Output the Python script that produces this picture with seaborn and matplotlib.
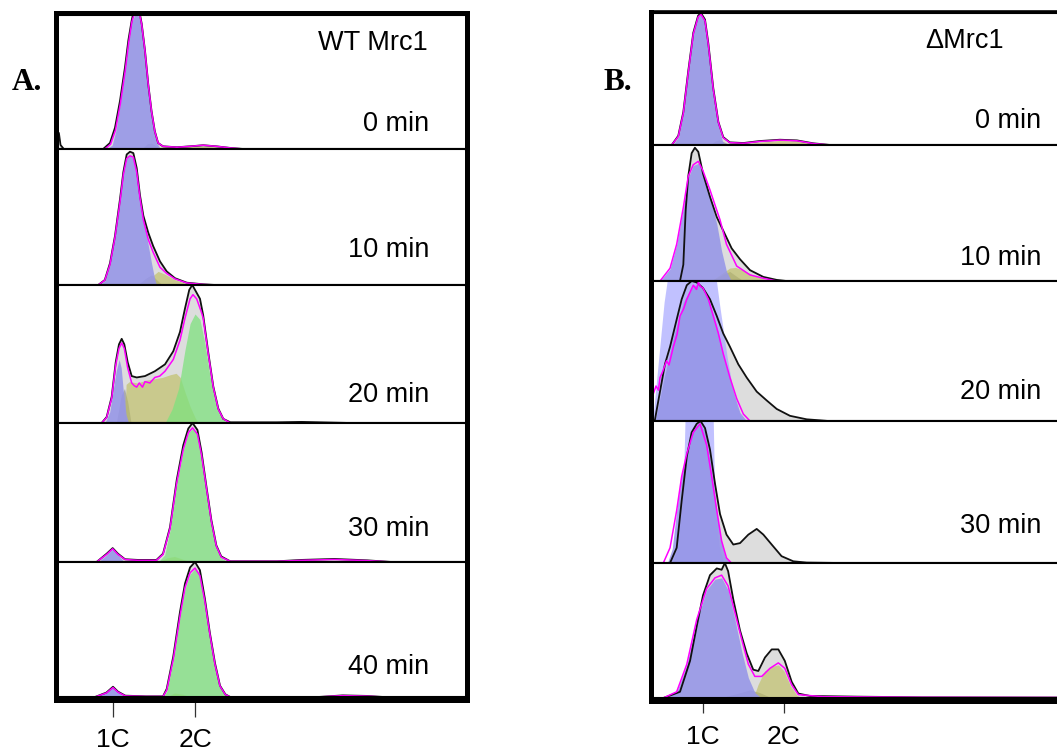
import matplotlib
matplotlib.use("Agg")
import matplotlib.pyplot as plt
import seaborn as sns

W, H = 1057, 753

# =====================================================================
# Data : DNA content (C units) vs relative cell count, one row per time
# =====================================================================
# ---- Panel A : WT Mrc1 ----
A0_total_x = [0.34, 0.36, 0.40, 0.88, 0.963, 1.024, 1.085, 1.146, 1.187, 1.228, 1.26, 1.30, 1.33, 1.35,
              1.39, 1.43, 1.47, 1.51, 1.55, 1.61, 1.78, 1.94, 2.10, 2.26, 2.43, 2.59]
A0_total_y = [0.12, 0.03, 0.0, 0.0, 0.045, 0.158, 0.358, 0.609, 0.81, 0.96, 1.05, 1.05, 1.0, 0.935,
              0.735, 0.484, 0.283, 0.133, 0.045, 0.02, 0.013, 0.02, 0.028, 0.02, 0.008, 0.0]
A0_fit_x = [0.90, 0.97, 1.03, 1.09, 1.15, 1.19, 1.23, 1.27, 1.32, 1.35, 1.39, 1.43, 1.47, 1.51, 1.55,
            1.61, 1.78, 1.94, 2.10, 2.26, 2.43, 2.59]
A0_fit_y = [0.0, 0.035, 0.14, 0.34, 0.59, 0.79, 0.95, 1.03, 1.02, 0.93, 0.73, 0.48, 0.28, 0.13, 0.045,
            0.02, 0.013, 0.02, 0.028, 0.02, 0.008, 0.0]
A0_blue_x = [0.92, 0.99, 1.04, 1.09, 1.15, 1.19, 1.23, 1.28, 1.33, 1.37, 1.41, 1.45, 1.49, 1.53, 1.58]
A0_blue_y = [0, 0.03, 0.15, 0.35, 0.6, 0.8, 0.95, 1.02, 0.97, 0.8, 0.55, 0.32, 0.15, 0.05, 0.0]
A0_gray_x = [1.35, 1.42, 1.47, 1.53, 1.58]
A0_gray_y = [0, 0.04, 0.045, 0.02, 0]
A0_yel_x = [1.45, 1.6, 2.0, 2.4, 2.6]
A0_yel_y = [0, 0.015, 0.025, 0.01, 0]

A1_total_x = [0.82, 0.90, 0.963, 1.024, 1.085, 1.126, 1.167, 1.207, 1.248, 1.289, 1.329, 1.37, 1.43,
              1.49, 1.573, 1.655, 1.756, 1.90, 2.10, 2.25]
A1_total_y = [0, 0.037, 0.16, 0.36, 0.63, 0.83, 0.96, 0.98, 0.97, 0.86, 0.66, 0.51, 0.385, 0.286,
              0.174, 0.10, 0.05, 0.017, 0.005, 0]
A1_fit_x = A1_total_x
A1_fit_y = [0, 0.035, 0.15, 0.35, 0.61, 0.81, 0.93, 0.95, 0.94, 0.83, 0.64, 0.48, 0.335, 0.24, 0.13,
            0.085, 0.045, 0.015, 0.004, 0]
A1_blue_x = [0.83, 0.90, 0.963, 1.024, 1.085, 1.126, 1.167, 1.207, 1.248, 1.289, 1.33, 1.37, 1.41,
             1.47, 1.51, 1.53]
A1_blue_y = [0, 0.03, 0.15, 0.35, 0.61, 0.81, 0.93, 0.95, 0.93, 0.8, 0.61, 0.48, 0.36, 0.16, 0.04, 0]
A1_yel_x = [1.33, 1.45, 1.55, 1.63, 1.75, 1.9, 2.0]
A1_yel_y = [0, 0.05, 0.1, 0.08, 0.04, 0.01, 0]
A1_gray_x = [1.3, 1.4, 1.47, 1.53, 1.6]
A1_gray_y = [0, 0.05, 0.075, 0.04, 0]

A2_total_x = [0.862, 0.923, 0.984, 1.033, 1.073, 1.106, 1.138, 1.179, 1.228, 1.289, 1.39, 1.51, 1.634,
              1.735, 1.817, 1.878, 1.93, 1.967, 2.0, 2.061, 2.10, 2.162, 2.223, 2.284, 2.345, 2.43,
              3.0, 3.3, 3.6, 3.9]
A2_total_y = [0, 0.044, 0.19, 0.44, 0.57, 0.61, 0.57, 0.44, 0.34, 0.33, 0.34, 0.375, 0.425, 0.52, 0.66,
              0.83, 0.965, 1.0, 0.965, 0.9, 0.78, 0.51, 0.265, 0.105, 0.03, 0.005, 0.005, 0.008,
              0.004, 0]
A2_fit_x = [0.862, 0.923, 0.984, 1.033, 1.073, 1.106, 1.138, 1.179, 1.228, 1.26, 1.289, 1.32, 1.36,
            1.39, 1.45, 1.51, 1.57, 1.634, 1.735, 1.817, 1.878, 1.94, 1.975, 2.02, 2.08, 2.10, 2.162,
            2.223, 2.284, 2.345, 2.43]
A2_fit_y = [0, 0.04, 0.18, 0.42, 0.54, 0.58, 0.54, 0.40, 0.29, 0.27, 0.26, 0.29, 0.26, 0.30, 0.29,
            0.33, 0.34, 0.375, 0.46, 0.60, 0.76, 0.9, 0.93, 0.9, 0.8, 0.76, 0.5, 0.26, 0.10, 0.03, 0]
A2_blue_x = [0.90, 0.96, 1.0, 1.04, 1.075, 1.10, 1.126, 1.16, 1.19]
A2_blue_y = [0, 0.08, 0.23, 0.38, 0.46, 0.40, 0.23, 0.06, 0]
A2_gray_x = [1.04, 1.10, 1.14, 1.18, 1.22]
A2_gray_y = [0, 0.2, 0.25, 0.15, 0]
A2_yel_x = [1.14, 1.16, 1.20, 1.30, 1.40, 1.50, 1.60, 1.70, 1.77, 1.82, 1.88, 1.94, 2.0, 2.04]
A2_yel_y = [0, 0.28, 0.30, 0.29, 0.31, 0.32, 0.33, 0.35, 0.36, 0.33, 0.22, 0.12, 0.04, 0]
A2_green_x = [1.634, 1.72, 1.80, 1.878, 1.94, 2.0, 2.06, 2.12, 2.18, 2.24, 2.30, 2.39]
A2_green_y = [0, 0.1, 0.25, 0.53, 0.72, 0.79, 0.75, 0.58, 0.35, 0.17, 0.06, 0]

A3_total_x = [0.80, 0.923, 0.996, 1.06, 1.146, 1.30, 1.53, 1.61, 1.695, 1.777, 1.857, 1.918, 1.97,
              2.03, 2.08, 2.14, 2.20, 2.26, 2.32, 2.43, 3.0, 3.3, 3.7, 4.1, 4.4]
A3_total_y = [0, 0.06, 0.10, 0.06, 0.02, 0.015, 0.015, 0.06, 0.25, 0.59, 0.84, 0.96, 1.0, 0.95, 0.79,
              0.54, 0.30, 0.12, 0.04, 0.005, 0.005, 0.015, 0.022, 0.012, 0]
A3_fit_x = A3_total_x
A3_fit_y = [0, 0.055, 0.095, 0.055, 0.018, 0.012, 0.012, 0.055, 0.24, 0.57, 0.81, 0.93, 0.965, 0.92,
            0.77, 0.53, 0.29, 0.115, 0.035, 0.005, 0.005, 0.012, 0.018, 0.01, 0]
A3_blue_x = [0.82, 0.92, 0.99, 1.06, 1.14]
A3_blue_y = [0, 0.05, 0.09, 0.05, 0]
A3_green_x = [1.55, 1.63, 1.70, 1.78, 1.86, 1.92, 1.97, 2.03, 2.08, 2.14, 2.20, 2.26, 2.32, 2.40]
A3_green_y = [0, 0.05, 0.24, 0.57, 0.81, 0.93, 0.96, 0.92, 0.76, 0.52, 0.28, 0.11, 0.03, 0]
A3_yel_x = [1.55, 1.66, 1.75, 1.85, 1.95]
A3_yel_y = [0, 0.03, 0.04, 0.02, 0]

A4_total_x = [0.78, 0.92, 1.0, 1.06, 1.15, 1.40, 1.61, 1.655, 1.735, 1.817, 1.878, 1.94, 2.0, 2.06,
              2.12, 2.18, 2.244, 2.305, 2.37, 2.43, 3.5, 3.8, 4.1, 4.3]
A4_total_y = [0, 0.033, 0.076, 0.04, 0.01, 0.005, 0.005, 0.06, 0.30, 0.63, 0.84, 0.96, 1.0, 0.94, 0.73,
              0.48, 0.25, 0.084, 0.02, 0.0, 0.0, 0.012, 0.008, 0]
A4_fit_x = A4_total_x
A4_fit_y = [0, 0.03, 0.07, 0.036, 0.008, 0.004, 0.004, 0.05, 0.28, 0.6, 0.81, 0.92, 0.955, 0.90, 0.71,
            0.47, 0.24, 0.08, 0.018, 0, 0, 0.01, 0.006, 0]
A4_green_x = [1.61, 1.655, 1.735, 1.817, 1.878, 1.94, 2.0, 2.06, 2.12, 2.18, 2.244, 2.305, 2.37, 2.43]
A4_green_y = [0, 0.04, 0.27, 0.6, 0.8, 0.91, 0.95, 0.90, 0.70, 0.46, 0.23, 0.075, 0.015, 0]
A4_yel_x = [1.65, 1.75, 1.85, 1.95]
A4_yel_y = [0, 0.03, 0.02, 0]
A4_blue_x = [0.80, 0.92, 1.0, 1.07, 1.14]
A4_blue_y = [0, 0.04, 0.07, 0.03, 0]

# ---- Panel B : delta Mrc1 ----
B0_total_x = [0.614, 0.695, 0.757, 0.818, 0.88, 0.94, 0.975, 1.025, 1.066, 1.127, 1.19, 1.25, 1.33,
              1.50, 1.70, 1.95, 2.16, 2.36, 2.57]
B0_total_y = [0, 0.07, 0.25, 0.56, 0.85, 0.98, 1.0, 0.95, 0.77, 0.43, 0.175, 0.06, 0.02, 0.015, 0.03,
              0.04, 0.035, 0.013, 0]
B0_fit_x = B0_total_x
B0_fit_y = [0, 0.065, 0.24, 0.55, 0.84, 0.97, 0.99, 0.94, 0.76, 0.42, 0.17, 0.055, 0.018, 0.013, 0.027,
            0.037, 0.032, 0.011, 0]
B0_blue_x = [0.63, 0.70, 0.757, 0.818, 0.88, 0.94, 0.975, 1.025, 1.066, 1.127, 1.19, 1.24, 1.28]
B0_blue_y = [0, 0.065, 0.24, 0.55, 0.84, 0.97, 0.99, 0.94, 0.76, 0.41, 0.15, 0.03, 0]
B0_gray_x = [1.08, 1.15, 1.2, 1.27, 1.33]
B0_gray_y = [0, 0.03, 0.04, 0.02, 0]
B0_yel_x = [1.3, 1.6, 1.95, 2.2, 2.45, 2.55]
B0_yel_y = [0, 0.015, 0.035, 0.03, 0.005, 0]

B1_total_x = [0.716, 0.757, 0.786, 0.818, 0.86, 0.90, 0.942, 1.0, 1.086, 1.17, 1.25, 1.354, 1.457,
              1.58, 1.745, 1.91, 2.03]
B1_total_y = [0, 0.12, 0.52, 0.77, 0.94, 0.98, 0.95, 0.79, 0.62, 0.47, 0.37, 0.24, 0.16, 0.08, 0.03,
              0.008, 0]
B1_fit_x = [0.47, 0.593, 0.675, 0.757, 0.818, 0.88, 0.942, 1.0, 1.086, 1.17, 1.21, 1.29, 1.416, 1.58,
            1.745, 1.91]
B1_fit_y = [0, 0.094, 0.27, 0.54, 0.77, 0.855, 0.88, 0.81, 0.67, 0.52, 0.45, 0.27, 0.11, 0.045, 0.02, 0]
B1_blue_x = [0.47, 0.593, 0.675, 0.757, 0.818, 0.88, 0.942, 1.0, 1.086, 1.17, 1.23, 1.29, 1.35]
B1_blue_y = [0, 0.09, 0.27, 0.54, 0.76, 0.85, 0.865, 0.80, 0.62, 0.42, 0.22, 0.07, 0]
B1_yel_x = [1.10, 1.22, 1.33, 1.40, 1.50, 1.62, 1.78, 1.88]
B1_yel_y = [0, 0.05, 0.095, 0.1, 0.08, 0.04, 0.01, 0]
B1_gray_x = [1.1, 1.25, 1.33, 1.40, 1.5]
B1_gray_y = [0, 0.05, 0.07, 0.04, 0]

B2_total_x = [0.39, 0.407, 0.469, 0.53, 0.593, 0.675, 0.737, 0.80, 0.86, 0.922, 1.0, 1.086, 1.17, 1.25,
              1.333, 1.436, 1.54, 1.663, 1.786, 1.91, 2.074, 2.28, 2.44, 2.55]
B2_total_y = [0, 0.01, 0.21, 0.405, 0.53, 0.725, 0.87, 0.97, 1.0, 0.99, 0.95, 0.87, 0.75, 0.625, 0.53,
              0.405, 0.31, 0.21, 0.147, 0.086, 0.037, 0.012, 0.005, 0]
B2_fit_x = [0.384, 0.42, 0.45, 0.469, 0.50, 0.55, 0.58, 0.634, 0.68, 0.716, 0.76, 0.80, 0.84, 0.88,
            0.92, 0.942, 0.97, 1.0, 1.066, 1.127, 1.19, 1.25, 1.333, 1.416, 1.498, 1.58]
B2_fit_y = [0.19, 0.25, 0.22, 0.31, 0.35, 0.43, 0.40, 0.53, 0.62, 0.75, 0.80, 0.87, 0.92, 0.97, 0.94,
            0.99, 0.96, 0.95, 0.87, 0.75, 0.625, 0.48, 0.31, 0.16, 0.05, 0]
B2_blue_x = [0.41, 0.51, 0.634, 0.757, 0.88, 0.963, 1.066, 1.17, 1.27, 1.374, 1.457, 1.54]
B2_blue_y = [0, 0.28, 0.6, 0.85, 0.97, 0.97, 0.87, 0.675, 0.43, 0.21, 0.06, 0]
B2_band_x = [0.38, 0.42, 0.47, 0.52, 0.57, 1.155, 1.2, 1.25, 1.30, 1.36, 1.42, 1.48, 1.52]
B2_band_y = [0, 0.25, 0.55, 0.85, 1.05, 1.05, 0.85, 0.65, 0.45, 0.25, 0.1, 0.02, 0]

B3_total_x = [0.593, 0.675, 0.737, 0.80, 0.86, 0.922, 0.97, 1.025, 1.086, 1.148, 1.21, 1.29, 1.374,
              1.457, 1.56, 1.663, 1.745, 1.848, 1.97, 2.115, 2.28, 2.7]
B3_total_y = [0, 0.107, 0.44, 0.75, 0.92, 0.98, 1.0, 0.95, 0.80, 0.56, 0.345, 0.2, 0.13, 0.14, 0.2,
              0.24, 0.2, 0.13, 0.048, 0.012, 0.003, 0]
B3_fit_x = [0.51, 0.593, 0.675, 0.737, 0.80, 0.88, 0.963, 1.045, 1.107, 1.17, 1.23, 1.29, 1.35]
B3_fit_y = [0, 0.107, 0.37, 0.61, 0.77, 0.92, 0.98, 0.83, 0.61, 0.37, 0.155, 0.036, 0]
B3_blue_x = [0.56, 0.62, 0.675, 0.737, 0.80, 0.88, 0.963, 1.025, 1.086, 1.148, 1.21, 1.27, 1.33]
B3_blue_y = [0, 0.1, 0.37, 0.62, 0.8, 0.95, 0.99, 0.92, 0.72, 0.46, 0.2, 0.05, 0]
B3_band_x = [0.62, 0.68, 0.73, 0.76, 0.78, 1.125, 1.14, 1.16, 1.2, 1.26]
B3_band_y = [0, 0.1, 0.35, 0.6, 1.05, 1.05, 0.6, 0.35, 0.12, 0]

B4_total_x = [0.51, 0.716, 0.84, 0.922, 1.0, 1.086, 1.17, 1.23, 1.27, 1.31, 1.374, 1.457, 1.54, 1.62,
              1.683, 1.765, 1.848, 1.93, 2.01, 2.095, 2.177, 2.32, 2.9, 3.7, 5.9]
B4_total_y = [0, 0.046, 0.275, 0.53, 0.76, 0.91, 0.96, 0.95, 1.0, 0.94, 0.73, 0.5, 0.33, 0.21, 0.2,
              0.30, 0.36, 0.36, 0.275, 0.12, 0.033, 0.015, 0.01, 0.005, 0.003]
B4_fit_x = [0.51, 0.675, 0.80, 0.922, 1.045, 1.148, 1.23, 1.31, 1.395, 1.48, 1.56, 1.64, 1.725, 1.827,
            1.93, 2.01, 2.095, 2.177, 2.48, 3.7, 5.9]
B4_fit_y = [0, 0.046, 0.25, 0.58, 0.81, 0.89, 0.91, 0.83, 0.63, 0.43, 0.25, 0.16, 0.16, 0.22, 0.26,
            0.22, 0.097, 0.025, 0.01, 0.005, 0.003]
B4_blue_x = [0.53, 0.675, 0.80, 0.922, 1.045, 1.148, 1.23, 1.31, 1.395, 1.48, 1.56, 1.64, 1.72]
B4_blue_y = [0, 0.045, 0.25, 0.57, 0.80, 0.88, 0.89, 0.80, 0.58, 0.34, 0.15, 0.04, 0]
B4_yel_x = [1.62, 1.68, 1.76, 1.85, 1.93, 2.0, 2.08, 2.16, 2.22]
B4_yel_y = [0, 0.1, 0.2, 0.235, 0.245, 0.2, 0.09, 0.02, 0]
B4_gray_x = [1.2, 1.4, 1.58, 1.7, 1.85]
B4_gray_y = [0, 0.03, 0.06, 0.04, 0]

time_labels_A = ["0 min", "10 min", "20 min", "30 min", "40 min"]
time_labels_B = ["0 min", "10 min", "20 min", "30 min", ""]
tick_pos = [1, 2]
tick_labels = ["1C", "2C"]

# tables built from the arrays above
rows_A = [
    ((A0_total_x, A0_total_y), (A0_fit_x, A0_fit_y),
     [("gray", A0_gray_x, A0_gray_y), ("yel", A0_yel_x, A0_yel_y), ("blue", A0_blue_x, A0_blue_y)]),
    ((A1_total_x, A1_total_y), (A1_fit_x, A1_fit_y),
     [("gray", A1_gray_x, A1_gray_y), ("yel", A1_yel_x, A1_yel_y), ("blue", A1_blue_x, A1_blue_y)]),
    ((A2_total_x, A2_total_y), (A2_fit_x, A2_fit_y),
     [("gray", A2_gray_x, A2_gray_y), ("yel", A2_yel_x, A2_yel_y), ("green", A2_green_x, A2_green_y),
      ("blue", A2_blue_x, A2_blue_y)]),
    ((A3_total_x, A3_total_y), (A3_fit_x, A3_fit_y),
     [("yel", A3_yel_x, A3_yel_y), ("green", A3_green_x, A3_green_y), ("blue", A3_blue_x, A3_blue_y)]),
    ((A4_total_x, A4_total_y), (A4_fit_x, A4_fit_y),
     [("yel", A4_yel_x, A4_yel_y), ("green", A4_green_x, A4_green_y), ("blue", A4_blue_x, A4_blue_y)]),
]
rows_B = [
    ((B0_total_x, B0_total_y), (B0_fit_x, B0_fit_y),
     [("gray", B0_gray_x, B0_gray_y), ("yel", B0_yel_x, B0_yel_y), ("blue", B0_blue_x, B0_blue_y)]),
    ((B1_total_x, B1_total_y), (B1_fit_x, B1_fit_y),
     [("gray", B1_gray_x, B1_gray_y), ("yel", B1_yel_x, B1_yel_y), ("blue", B1_blue_x, B1_blue_y)]),
    ((B2_total_x, B2_total_y), (B2_fit_x, B2_fit_y),
     [("band", B2_band_x, B2_band_y), ("blue", B2_blue_x, B2_blue_y)]),
    ((B3_total_x, B3_total_y), (B3_fit_x, B3_fit_y),
     [("band", B3_band_x, B3_band_y), ("blue", B3_blue_x, B3_blue_y)]),
    ((B4_total_x, B4_total_y), (B4_fit_x, B4_fit_y),
     [("gray", B4_gray_x, B4_gray_y), ("yel", B4_yel_x, B4_yel_y), ("blue", B4_blue_x, B4_blue_y)]),
]

# =====================================================================
# Styles
# =====================================================================
sns.set_theme(style="white")
plt.rcParams['font.family'] = ['Liberation Sans', 'DejaVu Sans']
plt.rcParams['text.color'] = 'black'
plt.rcParams['xtick.labelcolor'] = 'black'

comp_style = {
    "blue": ("#9696e8", 0.88),
    "band": ("#a0a0ff", 0.65),
    "green": ("#7ee27e", 0.75),
    "yel": ("#bdbd5c", 0.62),
    "gray": ("#8a8a8a", 0.60),
}


def fx(px):
    return px / W


def fy(py):
    return 1 - py / H


fig = plt.figure(figsize=(W / 100, H / 100), dpi=100)

# panel geometry in pixels: inner left/right, row top/bottom edges
panels = [
    dict(rows=rows_A, left=59, right=464, c1=113, c2=195,
         edges=[15, 149, 285, 423, 562, 697], labels=time_labels_A),
    dict(rows=rows_B, left=653, right=1100, c1=703, c2=784,
         edges=[13, 145, 281, 421, 563, 698], labels=time_labels_B),
]

bottom_axes = []
for p in panels:
    unit = p["c2"] - p["c1"]
    xlim = (1 + (p["left"] - p["c1"]) / unit, 1 + (p["right"] - p["c1"]) / unit)
    for i, (total, fit, comps) in enumerate(p["rows"]):
        top, bot = p["edges"][i], p["edges"][i + 1]
        ax = fig.add_axes([fx(p["left"]), fy(bot), fx(p["right"] - p["left"]), (bot - top) / H])
        ax.fill_between(total[0], total[1], color="#dddddd", lw=0)
        for name, cx, cy in comps:
            col, al = comp_style[name]
            ax.fill_between(cx, cy, color=col, alpha=al, lw=0)
        sns.lineplot(x=total[0], y=total[1], ax=ax, color="#111111", linewidth=1.3, sort=False)
        sns.lineplot(x=fit[0], y=fit[1], ax=ax, color="#ff00ff", linewidth=1.1, sort=False)
        ax.set_xlim(*xlim)
        ax.set_ylim(0, 1)
        ax.set_xticks([])
        ax.set_yticks([])
        ax.set_xlabel("")
        ax.set_ylabel("")
        for s in ["left", "right"]:
            ax.spines[s].set_visible(False)
        for s in ["top", "bottom"]:
            ax.spines[s].set_color("black")
            ax.spines[s].set_linewidth(1.5)
    bottom_axes.append(ax)

# 1C / 2C ticks under the last rows
for ax, ln, pad in zip(bottom_axes, [14.4, 11], [8, 8.6]):
    ax.set_xticks(tick_pos)
    ax.set_xticklabels(tick_labels, fontsize=19)
    ax.tick_params(axis="x", bottom=True, direction="out", length=ln, width=0.9,
                   color="#333333", pad=pad)

# thick outer frames
frA = fig.add_axes([fx(56), fy(699.5), fx(466.5 - 56), (699.5 - 12.5) / H])
frB = fig.add_axes([fx(650.5), fy(700.5), fx(1120 - 650.5), (700.5 - 11.5) / H])
for fr in (frA, frB):
    fr.set_facecolor("none")
    fr.set_xticks([])
    fr.set_yticks([])
    for s in fr.spines.values():
        s.set_color("black")
        s.set_linewidth(3.6)
frB.spines["top"].set_linewidth(2.6)

# texts
label_y_A = [124, 250, 395, 529, 667]
label_y_B = [121, 258, 392, 526, 660]
for lab, yy in zip(time_labels_A, label_y_A):
    fig.text(fx(429), fy(yy), lab, ha="right", va="center", fontsize=19.5)
for lab, yy in zip(time_labels_B, label_y_B):
    fig.text(fx(1041), fy(yy), lab, ha="right", va="center", fontsize=19.5)
fig.text(fx(428), fy(43), "WT Mrc1", ha="right", va="center", fontsize=19.5)
fig.text(fx(1004), fy(41), "\u0394Mrc1", ha="right", va="center", fontsize=19.5)
fig.text(fx(12), fy(83), "A.", ha="left", va="center", fontsize=22.5, fontweight="bold",
         family=["Liberation Serif", "DejaVu Serif"])
fig.text(fx(603), fy(83), "B.", ha="left", va="center", fontsize=22.5, fontweight="bold",
         family=["Liberation Serif", "DejaVu Serif"])

fig.savefig("out.png", dpi=100)
